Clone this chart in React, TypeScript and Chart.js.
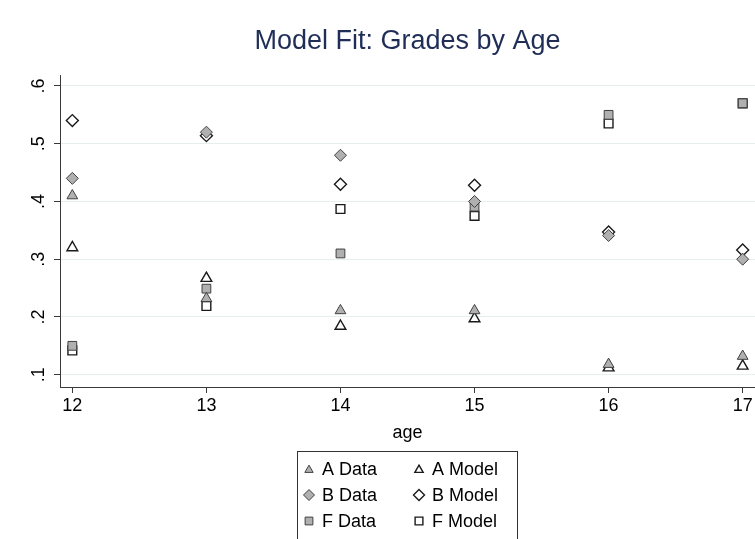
import React, { useEffect, useRef } from "react";
import { Chart, registerables } from "chart.js";

Chart.register(...registerables);

const TITLE = "Model Fit: Grades by Age";
const X_TITLE = "age";
const ages = [12, 13, 14, 15, 16, 17];
const xTicks = [12, 13, 14, 15, 16, 17];
const yTicks = [0.1, 0.2, 0.3, 0.4, 0.5, 0.6];

const aData = [0.41, 0.232, 0.211, 0.211, 0.118, 0.132];
const aModel = [0.32, 0.267, 0.184, 0.197, 0.112, 0.115];
const bData = [0.44, 0.52, 0.48, 0.4, 0.341, 0.3];
const bModel = [0.54, 0.514, 0.43, 0.428, 0.347, 0.316];
const fData = [0.15, 0.249, 0.31, 0.391, 0.55, 0.57];
const fModel = [0.142, 0.219, 0.387, 0.375, 0.535, 0.57];

const seriesNames = ["A Data", "A Model", "B Data", "B Model", "F Data", "F Model"];
const seriesValues = [aData, aModel, bData, bModel, fData, fModel];
const seriesStyles = ["triangle", "triangle", "rectRot", "rectRot", "rect", "rect"];

const FONT = '"Liberation Sans", Arial, Helvetica, sans-serif';
const FILL = "#b0b0b0";
const DATA_BORDER = "#404040";
const MODEL_BORDER = "#1a1a1a";
const TITLE_COLOR = "#1f2d57";
const GRID = "#e6eef0";
const AXIS = "#3a3a3a";

function radiusFor(style: string) {
  if (style === "triangle") return 6.2;
  if (style === "rectRot") return 6;
  return 6.2;
}

function drawMarker(ctx: CanvasRenderingContext2D, style: string, x: number, y: number, r: number, filled: boolean) {
  ctx.beginPath();
  if (style === "triangle") {
    const s = Math.sin((2 * Math.PI) / 3) * r;
    ctx.moveTo(x, y - r);
    ctx.lineTo(x + s, y + r / 2);
    ctx.lineTo(x - s, y + r / 2);
  } else if (style === "rectRot") {
    ctx.moveTo(x, y - r);
    ctx.lineTo(x + r, y);
    ctx.lineTo(x, y + r);
    ctx.lineTo(x - r, y);
  } else {
    const h = r * Math.SQRT1_2;
    ctx.rect(x - h, y - h, 2 * h, 2 * h);
  }
  ctx.closePath();
  if (filled) {
    ctx.fillStyle = FILL;
    ctx.fill();
  }
  ctx.lineWidth = filled ? 1 : 1.4;
  ctx.strokeStyle = filled ? DATA_BORDER : MODEL_BORDER;
  ctx.stroke();
}

const overlay = {
  id: "overlay",
  afterDraw(chart: any) {
    const ctx: CanvasRenderingContext2D = chart.ctx;
    const area = chart.chartArea;
    ctx.save();
    ctx.textAlign = "center";
    ctx.textBaseline = "alphabetic";
    ctx.fillStyle = TITLE_COLOR;
    ctx.font = `27px ${FONT}`;
    ctx.fillText(TITLE, (area.left + area.right) / 2, 49);

    ctx.fillStyle = "#000";
    ctx.font = `18px ${FONT}`;
    ctx.fillText(X_TITLE, (area.left + area.right) / 2, 438);

    // legend box
    const boxL = 297, boxT = 451, boxR = 517, boxB = 545;
    ctx.fillStyle = "#fff";
    ctx.fillRect(boxL, boxT, boxR - boxL, boxB - boxT);
    ctx.strokeStyle = "#333";
    ctx.lineWidth = 1;
    ctx.strokeRect(boxL + 0.5, boxT + 0.5, boxR - boxL, boxB - boxT);

    const colMarker = [309, 419];
    const colText = [322, 432];
    const rows = [469, 495, 521];
    ctx.textAlign = "left";
    ctx.textBaseline = "middle";
    ctx.font = `18px ${FONT}`;
    seriesNames.forEach((name, i) => {
      const col = i % 2;
      const row = Math.floor(i / 2);
      const style = seriesStyles[i];
      const r = style === "triangle" ? 4.8 : style === "rectRot" ? 5.5 : 5.5;
      drawMarker(ctx, style, colMarker[col], rows[row] + (style === "triangle" ? 1 : 0), r, col === 0);
      ctx.fillStyle = "#000";
      ctx.fillText(name, colText[col], rows[row] + 1);
    });
    ctx.restore();
  },
};

export default function App() {
  const ref = useRef<HTMLCanvasElement | null>(null);
  useEffect(() => {
    document.body.style.margin = "0";
    const canvas = ref.current;
    if (!canvas) return;
    const datasets = seriesNames.map((name, i) => {
      const filled = i % 2 === 0;
      const style = seriesStyles[i];
      return {
        label: name,
        data: ages.map((a, j) => ({ x: a, y: seriesValues[i][j] })),
        pointStyle: style,
        pointRadius: radiusFor(style),
        pointHoverRadius: radiusFor(style),
        backgroundColor: filled ? FILL : "rgba(0,0,0,0)",
        borderColor: filled ? DATA_BORDER : MODEL_BORDER,
        pointBorderWidth: filled ? 1 : 1.4,
        showLine: false,
      };
    });
    const chart = new Chart(canvas, {
      type: "scatter",
      data: { datasets },
      options: {
        responsive: false,
        animation: false,
        devicePixelRatio: 1,
        layout: { autoPadding: false, padding: { top: 75, left: 0, right: 0, bottom: 0 } },
        plugins: {
          legend: { display: false },
          title: { display: false },
          tooltip: { enabled: false },
        },
        scales: {
          x: {
            type: "linear",
            min: 11.908,
            max: 17.092,
            afterBuildTicks: (s: any) => {
              s.ticks = xTicks.map((v) => ({ value: v }));
            },
            afterFit: (s: any) => {
              s.height = 152;
              s.paddingLeft = 0;
              s.paddingRight = 0;
            },
            grid: {
              drawOnChartArea: false,
              drawTicks: true,
              tickLength: 6,
              tickColor: AXIS,
            },
            border: { display: true, color: AXIS, width: 1 },
            ticks: {
              color: "#000",
              font: { family: FONT, size: 18 },
              padding: 2,
              maxRotation: 0,
              minRotation: 0,
              callback: (v: any) => String(v),
            },
          },
          y: {
            type: "linear",
            min: 0.0787,
            max: 0.619,
            afterBuildTicks: (s: any) => {
              s.ticks = yTicks.map((v) => ({ value: v }));
            },
            afterFit: (s: any) => {
              s.width = 60;
              s.paddingTop = 0;
              s.paddingBottom = 0;
            },
            grid: {
              color: GRID,
              lineWidth: 1,
              drawTicks: true,
              tickLength: 6,
              tickColor: AXIS,
            },
            border: { display: true, color: AXIS, width: 1 },
            ticks: {
              color: "#000",
              font: { family: FONT, size: 18 },
              padding: 7,
              minRotation: 90,
              maxRotation: 90,
              crossAlign: "center",
              callback: (v: any) => Number(v).toFixed(1).replace(/^0/, ""),
            },
          },
        },
      },
      plugins: [overlay],
    } as any);
    return () => chart.destroy();
  }, []);
  return <canvas ref={ref} width={755} height={539} style={{ display: "block", width: 755, height: 539 }} />;
}
